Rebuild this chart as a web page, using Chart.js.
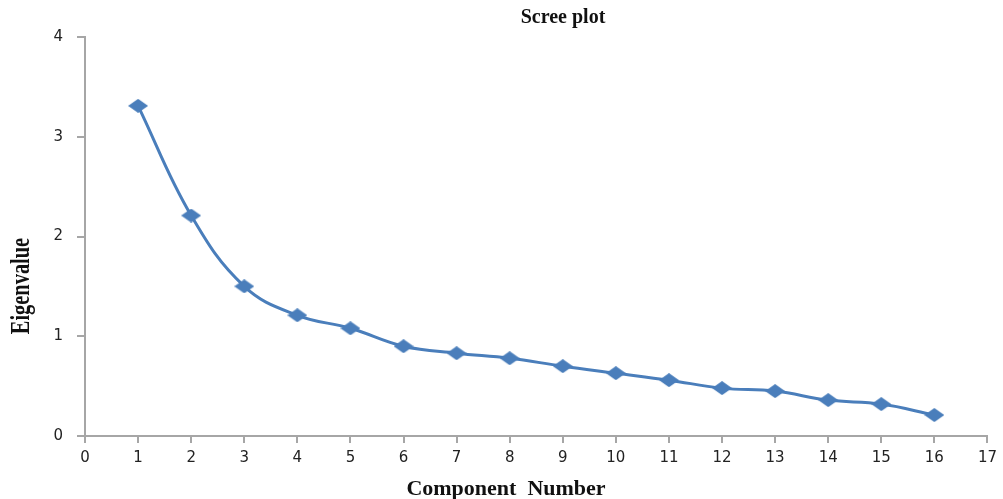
<!DOCTYPE html>
<html><head><meta charset="utf-8">
<script src="https://cdn.jsdelivr.net/npm/chart.js@4/dist/chart.umd.min.js"></script>
<style>html,body{margin:0;padding:0;background:#fff}#wrap{width:1003px;height:499px}</style>
</head><body><div id="wrap"><canvas id="c" width="1003" height="499"></canvas></div>
<script>
const components = [1,2,3,4,5,6,7,8,9,10,11,12,13,14,15,16];
const eigenvalues = [3.31,2.21,1.50,1.21,1.08,0.90,0.83,0.78,0.70,0.63,0.56,0.48,0.45,0.36,0.32,0.21];
const chartTitle = 'Scree plot';
const xTitle = 'Component  Number';
const yTitle = 'Eigenvalue';

const blue = '#4a7ebb';
const marker = document.createElement('canvas');
marker.width = 20; marker.height = 14;
(function(){const g = marker.getContext('2d');g.fillStyle = blue;g.beginPath();g.moveTo(10,0);g.lineTo(20,7);g.lineTo(10,14);g.lineTo(0,7);g.closePath();g.fill();})();

const titles = {
  id:'titles',
  afterDraw(chart){
    const ctx = chart.ctx; ctx.save();
    ctx.fillStyle = '#111';
    ctx.textAlign = 'center'; ctx.textBaseline = 'middle';
    ctx.font = 'bold 20px "Liberation Serif"';
    ctx.fillText(chartTitle, 563, 18);
    ctx.font = 'bold 22px "Liberation Serif"';
    ctx.fillText(xTitle, 506, 489);
    ctx.translate(22, 286); ctx.rotate(-Math.PI/2);
    ctx.scale(0.85,1.1);
    ctx.font = 'bold 24px "Liberation Serif"';
    ctx.fillText(yTitle, 0, 0);
    ctx.restore();
  }
};

new Chart(document.getElementById('c'), {
  type:'line',
  data:{datasets:[{
    data: components.map((c,i)=>({x:c,y:eigenvalues[i]})),
    borderColor: blue, backgroundColor: blue, borderWidth: 3,
    tension: 0.4, pointStyle: marker, pointRadius: 9, pointHoverRadius: 9
  }]},
  options:{
    responsive:false, animation:false,
    layout:{padding:{left:0,top:37,right:15,bottom:0}},
    plugins:{legend:{display:false},tooltip:{enabled:false},title:{display:false}},
    scales:{
      x:{type:'linear',min:0,max:17,
        ticks:{stepSize:1,color:'#222',font:{family:'"DejaVu Sans"',size:15},padding:6,maxRotation:0},
        grid:{drawOnChartArea:false,drawTicks:true,tickLength:7,color:'#a6a6a6',lineWidth:2},
        border:{color:'#a6a6a6',width:2},
        afterFit(s){s.height=63;}
      },
      y:{min:0,max:4,
        ticks:{stepSize:1,color:'#222',font:{family:'"DejaVu Sans"',size:15},padding:14},
        grid:{drawOnChartArea:false,drawTicks:true,tickLength:8,color:'#a6a6a6',lineWidth:2},
        border:{color:'#a6a6a6',width:2},
        afterFit(s){s.width=85;}
      }
    }
  },
  plugins:[titles]
});
</script></body></html>
